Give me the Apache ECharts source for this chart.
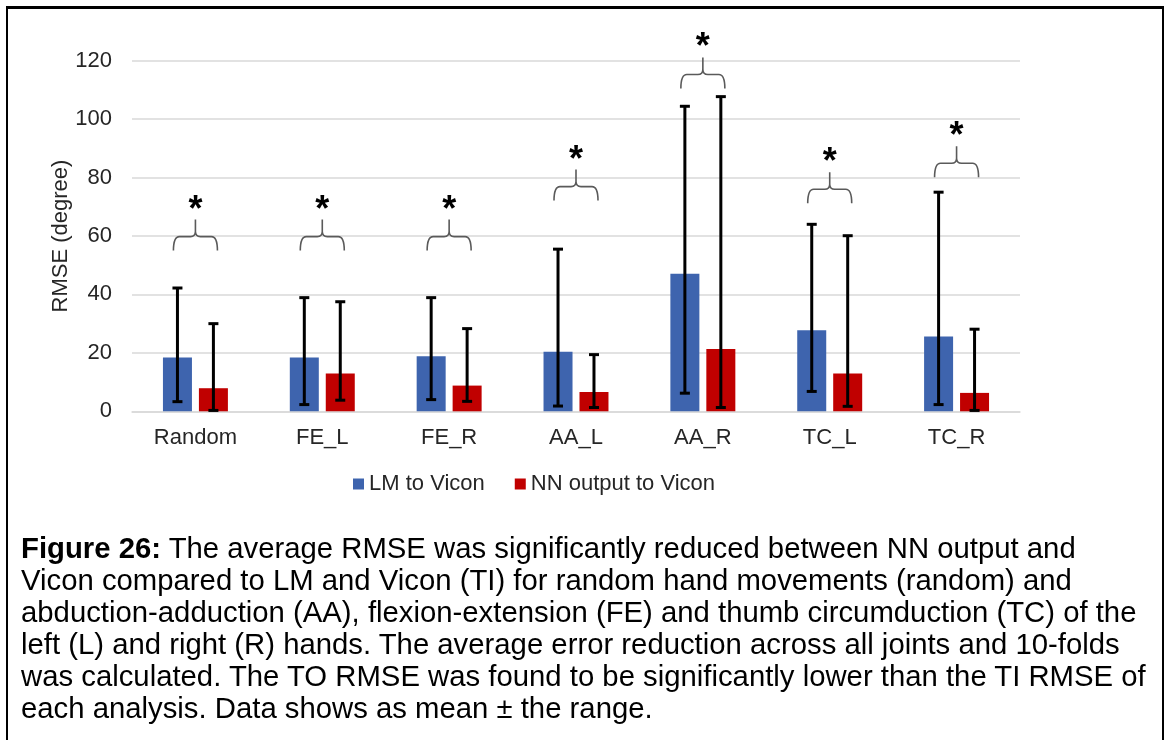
<!DOCTYPE html>
<html>
<head>
<meta charset="utf-8">
<script src="https://cdn.jsdelivr.net/npm/echarts@6/dist/echarts.min.js"></script>
<style>
  html, body { margin: 0; padding: 0; background: #fff; overflow: hidden; }
  #chart { position: absolute; left: 0; top: 0; width: 1164px; height: 740px; }
  #frame {
    position: absolute; left: 6px; top: 6px; width: 1154px; height: 800px;
    border-style: solid; border-color: #000; border-width: 3px 2px 0 2px;
    pointer-events: none;
  }
  #caption {
    position: absolute; left: 21px; top: 532px;
    font-family: "Liberation Sans", Arial, sans-serif; font-size: 29.3px;
    line-height: 32px; color: #000; white-space: nowrap;
  }
</style>
</head>
<body>
<div id="chart"></div>
<div id="frame"></div>
<div id="caption">
  <b>Figure 26:</b> The average RMSE was significantly reduced between NN output and<br>
  Vicon compared to LM and Vicon (TI) for random hand movements (random) and<br>
  abduction-adduction (AA), flexion-extension (FE) and thumb circumduction (TC) of the<br>
  left (L) and right (R) hands. The average error reduction across all joints and 10-folds<br>
  was calculated. The TO RMSE was found to be significantly lower than the TI RMSE of<br>
  each analysis. Data shows as mean &plusmn; the range.
</div>
<script>
// Movement categories
const categories = ['Random', 'FE_L', 'FE_R', 'AA_L', 'AA_R', 'TC_L', 'TC_R'];

// LM to Vicon: mean RMSE and range (degrees)
const lmMean = [18.4, 18.4, 18.8, 20.4, 47.1, 27.7, 25.6];
const lmLow  = [3.3, 2.3, 4.0, 1.8, 6.2, 6.8, 2.3];
const lmHigh = [42.2, 38.9, 38.9, 55.5, 104.4, 64.0, 75.0];

// NN output to Vicon: mean RMSE and range (degrees)
const nnMean = [7.9, 12.9, 8.8, 6.6, 21.3, 12.9, 6.3];
const nnLow  = [0.3, 3.8, 3.4, 1.3, 1.3, 1.7, 0.3];
const nnHigh = [30.0, 37.5, 28.3, 19.4, 107.7, 60.1, 28.1];

// Height (degrees) of each significance brace
const braceLevel = [59.8, 59.8, 59.8, 76.9, 115.3, 76.0, 84.9];

// Y axis ticks
const yMin = 0, yMax = 120, yStep = 20;

const BAR_W = 29;
const BAR_GAP = 0.24;
const BAR_OFFSET = (BAR_W + BAR_W * BAR_GAP) / 2;
const FONT = '"Liberation Sans", Arial, sans-serif';
const FS = 22;
const TEXT_COLOR = '#262626';

function errorBars(sign) {
  return function (params, api) {
    const c = api.value(0);
    const lo = api.coord([c, api.value(1)]);
    const hi = api.coord([c, api.value(2)]);
    const x = lo[0] + sign * BAR_OFFSET;
    const cap = 5;
    const st = { stroke: '#000', lineWidth: 3 };
    return {
      type: 'group',
      children: [
        { type: 'line', shape: { x1: x, y1: hi[1], x2: x, y2: lo[1] }, style: st },
        { type: 'line', shape: { x1: x - cap, y1: hi[1], x2: x + cap, y2: hi[1] }, style: st },
        { type: 'line', shape: { x1: x - cap, y1: lo[1], x2: x + cap, y2: lo[1] }, style: st }
      ]
    };
  };
}

function brace(params, api) {
  const p = api.coord([api.value(0), api.value(1)]);
  const cx = p[0], h = p[1];
  const w = 22, leg = 14, tip = 17;
  const d = [
    'M', cx - w, h + leg, 'Q', cx - w, h, cx - w + 6, h, 'L', cx - 5, h,
    'Q', cx, h, cx, h - 5, 'L', cx, h - tip,
    'M', cx + w, h + leg, 'Q', cx + w, h, cx + w - 6, h, 'L', cx + 5, h,
    'Q', cx, h, cx, h - 5
  ].join(' ');
  return {
    type: 'group',
    children: [
      { type: 'path', shape: { pathData: d }, style: { fill: 'none', stroke: '#5a5a5a', lineWidth: 1.6 } },
      {
        type: 'text', x: cx, y: h - 26,
        style: { text: '*', align: 'center', verticalAlign: 'middle', fill: '#000',
                 font: 'bold 36px ' + FONT }
      }
    ]
  };
}

const chart = echarts.init(document.getElementById('chart'), null, { renderer: 'canvas' });
chart.setOption({
  animation: false,
  textStyle: { fontFamily: FONT },
  grid: { left: 132, right: 144, top: 60.7, bottom: 328.7, containLabel: false },
  legend: {
    data: ['LM to Vicon', 'NN output to Vicon'],
    left: 348, top: 468,
    itemWidth: 11, itemHeight: 11, itemGap: 30,
    icon: 'rect',
    textStyle: { fontSize: FS, color: TEXT_COLOR, fontFamily: FONT }
  },
  xAxis: {
    type: 'category',
    data: categories,
    axisTick: { show: false },
    axisLine: { lineStyle: { color: '#d9d9d9', width: 1.5 } },
    axisLabel: { fontSize: FS, color: TEXT_COLOR, margin: 16, fontFamily: FONT }
  },
  yAxis: {
    type: 'value',
    min: yMin, max: yMax, interval: yStep,
    name: 'RMSE (degree)',
    nameLocation: 'middle',
    nameGap: 60,
    nameMoveOverlap: false,
    nameTextStyle: { fontSize: FS, color: TEXT_COLOR, fontFamily: FONT },
    axisLine: { show: false },
    axisTick: { show: false },
    axisLabel: { fontSize: FS, color: TEXT_COLOR, margin: 20, fontFamily: FONT },
    splitLine: { lineStyle: { color: '#d9d9d9', width: 1.5 } }
  },
  series: [
    {
      name: 'LM to Vicon', type: 'bar', data: lmMean,
      barWidth: BAR_W, barGap: (BAR_GAP * 100) + '%',
      itemStyle: { color: '#3e64ae' }
    },
    {
      name: 'NN output to Vicon', type: 'bar', data: nnMean,
      barWidth: BAR_W,
      itemStyle: { color: '#c00000' }
    },
    {
      type: 'custom', name: 'lmRange', z: 5,
      renderItem: errorBars(-1),
      data: lmLow.map((v, i) => [i, v, lmHigh[i]]),
      encode: { x: 0, y: [1, 2] }
    },
    {
      type: 'custom', name: 'nnRange', z: 5,
      renderItem: errorBars(1),
      data: nnLow.map((v, i) => [i, v, nnHigh[i]]),
      encode: { x: 0, y: [1, 2] }
    },
    {
      type: 'custom', name: 'significance', z: 5,
      renderItem: brace,
      data: braceLevel.map((v, i) => [i, v]),
      encode: { x: 0, y: 1 }
    }
  ]
});
</script>
</body>
</html>
